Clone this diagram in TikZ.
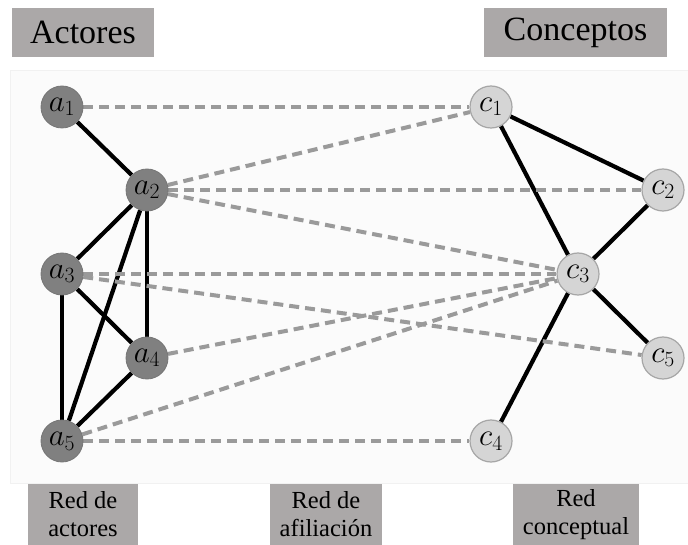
\RequirePackage{fix-cm}
\documentclass[tikz,border=0pt]{standalone}
\usepackage{fontspec}
\setmainfont{Liberation Serif}
\usetikzlibrary{backgrounds}
\definecolor{boxgray}{HTML}{ABA8A8}
\definecolor{actorfill}{HTML}{808080}
\definecolor{conceptfill}{HTML}{D5D5D5}
\definecolor{conceptline}{HTML}{A6A6A6}
\definecolor{dashgray}{HTML}{9A9A9A}
\definecolor{panelbg}{HTML}{FBFBFB}
\definecolor{panelline}{HTML}{F1F1F1}

\begin{document}
\begin{tikzpicture}[
    x=1pt, y=-1pt,
    title/.style={rectangle, fill=boxgray, minimum height=49pt, inner sep=0pt,
                  font=\fontsize{34}{38}\selectfont},
    caption/.style={rectangle, fill=boxgray, minimum height=61pt, inner sep=0pt,
                    align=center, font=\fontsize{24.5}{28}\selectfont},
    actor/.style={circle, fill=actorfill, draw=actorfill!92!black, line width=0.8pt,
                  minimum size=42pt, inner sep=0pt, font=\fontsize{31}{33}\selectfont},
    concept/.style={circle, fill=conceptfill, draw=conceptline, line width=1.2pt,
                    minimum size=42pt, inner sep=0pt, font=\fontsize{31}{33}\selectfont},
    tie/.style={line width=4.2pt, black},
    link/.style={line width=4pt, dashgray, dash pattern=on 10pt off 6pt}
]
\useasboundingbox (0,0) rectangle (688,545);

\node[title, minimum width=142pt] (actores)   at (83,32.5)  {Actores};
\node[title, minimum width=183pt] (conceptos) at (575.5,32.5) {Conceptos};

\node[actor] (a1) at (62,107)  {$a_1$};
\node[actor] (a2) at (147,190) {$a_2$};
\node[actor] (a3) at (62,274)  {$a_3$};
\node[actor] (a4) at (147,358) {$a_4$};
\node[actor] (a5) at (62,441)  {$a_5$};

\node[concept] (c1) at (491,107) {$c_1$};
\node[concept] (c2) at (663,190) {$c_2$};
\node[concept] (c3) at (578,274) {$c_3$};
\node[concept] (c5) at (663,358) {$c_5$};
\node[concept] (c4) at (491,441) {$c_4$};

\node[caption, minimum width=110pt] (redact)   at (83,514.5)  {Red de\\actores};
\node[caption, minimum width=112pt] (redafil)  at (326,514.5) {Red de\\afiliación};
\node[caption, minimum width=126pt] (redconc)  at (576,514.5) {Red\\conceptual};

\begin{scope}[on background layer]
\fill[panelbg, draw=panelline] (10,70) rectangle (688,483);

% red de actores
\draw[tie] (a1) -- (a2);
\draw[tie] (a2) -- (a3);
\draw[tie] (a2) -- (a4);
\draw[tie] (a2) -- (a5);
\draw[tie] (a3) -- (a4);
\draw[tie] (a3) -- (a5);
\draw[tie] (a4) -- (a5);

% red conceptual
\draw[tie] (c1) -- (c2);
\draw[tie] (c1) -- (c3);
\draw[tie] (c2) -- (c3);
\draw[tie] (c3) -- (c4);
\draw[tie] (c3) -- (c5);

% red de afiliacion
\draw[link] (a1) -- (c1);
\draw[link] (a2) -- (c1);
\draw[link] (a2) -- (c2);
\draw[link] (a2) -- (c3);
\draw[link] (a3) -- (c3);
\draw[link] (a3) -- (c5);
\draw[link] (a4) -- (c3);
\draw[link] (a5) -- (c3);
\draw[link] (a5) -- (c4);
\end{scope}

\end{tikzpicture}
\end{document}
